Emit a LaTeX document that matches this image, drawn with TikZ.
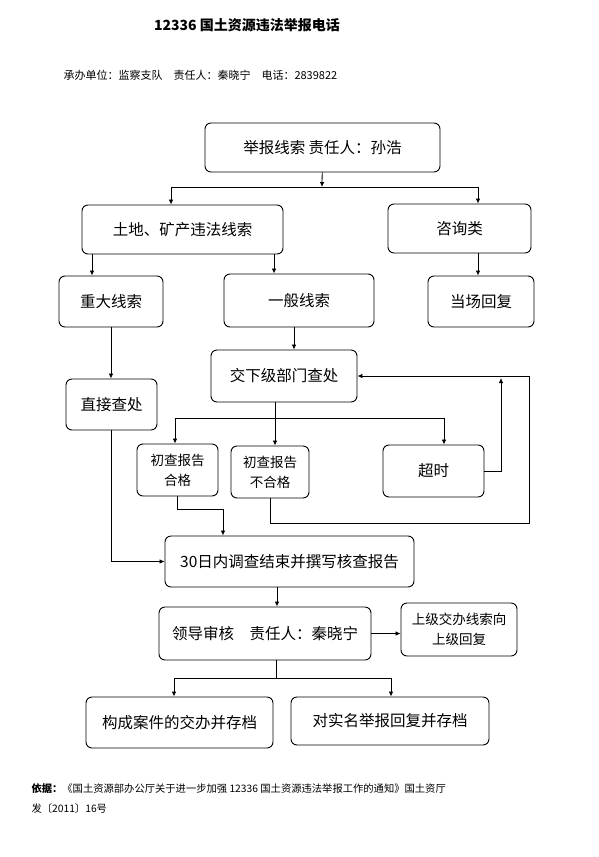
\documentclass[tikz,border=0pt]{standalone}
\usepackage{fontspec}
\setmainfont{Noto Sans CJK SC}
\usetikzlibrary{arrows.meta}
\tikzset{
  box/.style={draw,rounded corners=6pt,line width=0.9pt,align=center,inner sep=0pt,font=\fontsize{15.5}{19}\selectfont},
  sbox/.style={box,font=\fontsize{13.5}{20}\selectfont},
  arr/.style={line width=0.8pt,-{Latex[length=5pt,width=4.5pt]}},
  ln/.style={line width=0.8pt}
}
\begin{document}
\begin{tikzpicture}[x=1pt,y=-1pt]
\useasboundingbox (0,0) rectangle (599,857);
% heading
\node[font=\fontsize{14}{17}\selectfont\bfseries] (title) at (247,25) {12336 国土资源违法举报电话};
\node[anchor=west,font=\fontsize{11}{14}\selectfont] (head) at (60,75)
  {承办单位：监察支队\quad 责任人：秦晓宁\quad 电话：2839822};
% boxes
\foreach \name/\st/\cx/\cy/\w/\h/\txt in {
	top/box/322.5/147.5/235/49/{举报线索\ 责任人：孙浩},
	tudi/box/182.5/229.5/201/49/{土地、矿产违法线索},
	zixun/box/459.5/228.5/143/49/{咨询类},
	zhongda/box/111/301.5/104/51/{重大线索},
	yiban/box/299/300.5/150/53/{一般线索},
	dangchang/box/481/301.5/106/51/{当场回复},
	jiaoxia/box/284/376/146/52/{交下级部门查处},
	zhijie/box/111.5/404.5/91/51/{直接查处},
	hege/sbox/177.5/470/81/52/{初查报告\\合格},
	buhege/sbox/270/472/78/52/{初查报告\\不合格},
	chaoshi/box/433.5/471/101/52/{超时},
	report/box/289.5/561.5/249/51/{30日内调查结束并撰写核查报告},
	lingdao/box/265/633.5/212/53/{领导审核　责任人：秦晓宁},
	shangji/sbox/459/629.5/116/53/{上级交办线索向\\上级回复},
	goucheng/box/179.5/722.5/187/51/{构成案件的交办并存档},
	shiming/box/390/721/198/48/{对实名举报回复并存档}%
	}{
	\node[\st,minimum width=\w pt,minimum height=\h pt] (\name) at (\cx,\cy) {\txt};
	}
% connectors
\coordinate (jb) at (322,187);
\draw[arr] (top) -- (jb);
\draw[arr] (jb) -| (171,0 |- tudi.north);
\draw[arr] (jb) -| (478,0 |- zixun.north);
\draw[arr] (92,0 |- tudi.south) -- (92,0 |- zhongda.north);
\draw[arr] (274,0 |- tudi.south) -- (274,0 |- yiban.north);
\draw[arr] (478,0 |- zixun.south) -- (478,0 |- dangchang.north);
\draw[arr] (zhongda.south) -- (zhongda.south |- zhijie.north);
\draw[arr] (294,0 |- yiban.south) -- (294,0 |- jiaoxia.north);
\coordinate (fj) at (275,418);
\draw[ln] (275,0 |- jiaoxia.south) -- (fj);
\draw[arr] (fj) -| (175,0 |- hege.north);
\draw[arr] (fj) -- (275,0 |- buhege.north);
\draw[arr] (fj) -| (444,0 |- chaoshi.north);
\coordinate (cs) at (501,378);
\draw[arr] (chaoshi.east) -| (cs);
\coordinate (back) at (529,523);
\draw[arr] (buhege.south) |- (back) |- (jiaoxia.east);
\coordinate (hg) at (223,509);
\draw[arr] (hege.south) |- (hg) -- (hg |- report.north);
\draw[arr] (zhijie.south) |- (report.west);
\draw[arr] (277,0 |- report.south) -- (277,0 |- lingdao.north);
\draw[arr] (lingdao.east) -- (lingdao.east -| shangji.west);
\coordinate (lj) at (276,678);
\draw[ln] (276,0 |- lingdao.south) -- (lj);
\draw[arr] (lj) -| (174,0 |- goucheng.north);
\draw[arr] (lj) -| (391,0 |- shiming.north);
% basis
\node[anchor=north west,align=left,font=\fontsize{10.3}{20}\selectfont] (basis) at (28,780)
  {\textbf{依据：}《国土资源部办公厅关于进一步加强 12336 国土资源违法举报工作的通知》国土资厅\\发〔2011〕16号};
\end{tikzpicture}
\end{document}
